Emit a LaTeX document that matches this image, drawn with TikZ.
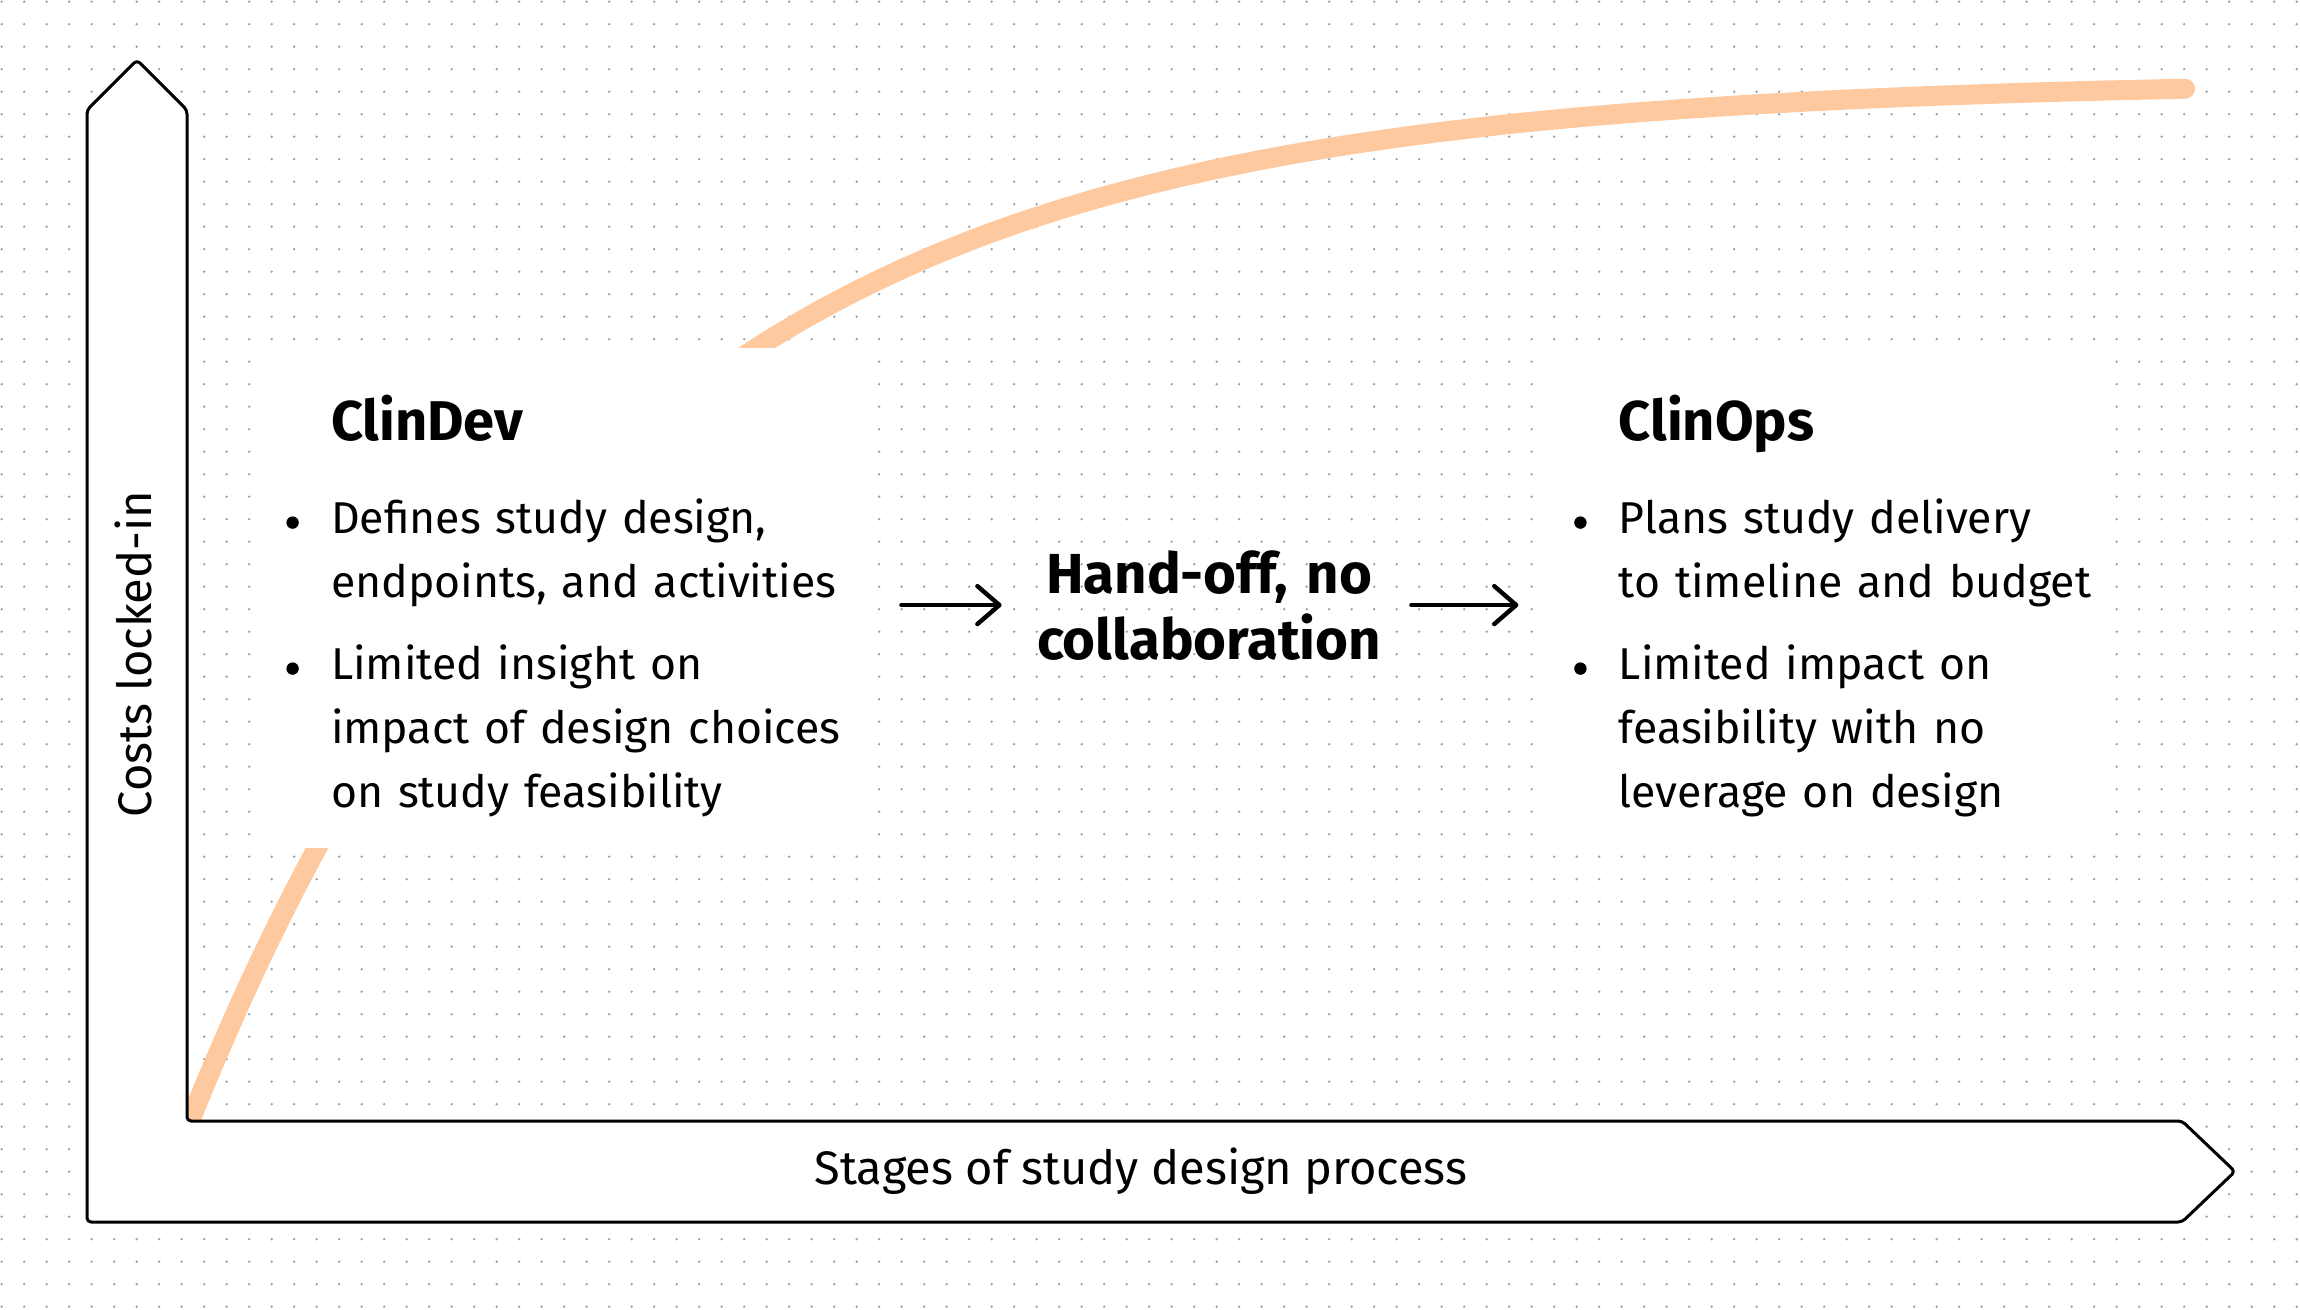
\documentclass[tikz,border=0pt]{standalone}
\usepackage{fontspec}
\setmainfont{Fira Sans}
\usepackage{tikz}
\usetikzlibrary{arrows.meta, positioning, calc}
\definecolor{dotgrey}{RGB}{150,160,165}
\definecolor{peach}{RGB}{255,201,160}
\tikzset{panel/.style={rectangle,fill=white,inner sep=0pt,minimum height=250pt},
         heading/.style={font=\fontsize{28}{34}\selectfont\bfseries,inner sep=0pt,anchor=base west},
         item/.style={font=\fontsize{22.3}{32}\selectfont,align=left,text width=280pt,inner sep=0pt,anchor=base west},
         handoff/.style={font=\fontsize{28.2}{33}\selectfont\bfseries,align=center,text width=172pt,inner sep=0pt},
         axislabel/.style={font=\fontsize{23.5}{28}\selectfont,inner sep=0pt,anchor=base},
         axisshape/.style={draw=black,fill=white,line width=1.5pt,rounded corners=2pt,line join=round},
         costcurve/.style={draw=peach,line width=10pt,line cap=round},
         arrow/.style={-{Straight Barb[length=11pt,width=19pt,round]},line width=2.2pt,line cap=round}}

\begin{document}
\begin{tikzpicture}[x=0.5pt,y=-0.5pt]
    \useasboundingbox (0,0) rectangle (2300,1310);
    % dotted paper
    \foreach \i in {0,...,102} {\fill[dotgrey] \foreach \j in {0,...,58} {(1.7+22.5*\i,1.7+22.5*\j) circle (0.65pt)};}
    \draw[costcurve] plot[domain=187:2185, samples=150, smooth] (\x, {80+1041*exp(-0.0024*(\x-190))});
    \node (clindev) [panel, minimum width=304pt] at (562,598) {};
    \node (clinops) [panel, minimum width=280pt, right=339.5pt of clindev] {};
    % axes
    \draw[axisshape] (87,1222) -- (87,110) -- (137,60) -- (187,110) -- (187,1121) -- (2182,1121) -- (2235,1171.5) -- (2182,1222) -- cycle;
    \node (ylabel) [axislabel, rotate=90] at (151,654) {Costs locked-in};
    \node (xlabel) [axislabel] at (1141,1184) {Stages of study design process};
    % the two teams
    \node (devtitle) [heading] at ([shift={(36.5pt,-46.5pt)}]clindev.north west) {ClinDev};
    \node (devitemA) [item] at ([yshift=-46.5pt]devtitle.base west) {Defines study design,\\endpoints, and activities};
    \node (devitemB) [item] at ([yshift=-73pt]devitemA.base west) {Limited insight on\\impact of design choices\\on study feasibility};
    \node (opstitle) [heading] at ([shift={(36.5pt,-46.5pt)}]clinops.north west) {ClinOps};
    \node (opsitemA) [item] at ([yshift=-46.5pt]opstitle.base west) {Plans study delivery\\to timeline and budget};
    \node (opsitemB) [item] at ([yshift=-73pt]opsitemA.base west) {Limited impact on\\feasibility with no\\leverage on design};
    \foreach \n in {devitemA,devitemB,opsitemA,opsitemB} {\fill ([shift={(-19pt,5.5pt)}]\n.base west) circle (3.1pt);}
    \node (handoff) [handoff, anchor=base] at (1209,593) {Hand-off, no\\collaboration};
    \draw[arrow, shorten <=17.5pt, shorten >=17.5pt] (clindev.east |- handoff.west) -- (handoff.west);
    \draw[arrow, shorten <=15pt, shorten >=13.5pt] (handoff.east) -- (handoff.east -| clinops.west);
\end{tikzpicture}
\end{document}
